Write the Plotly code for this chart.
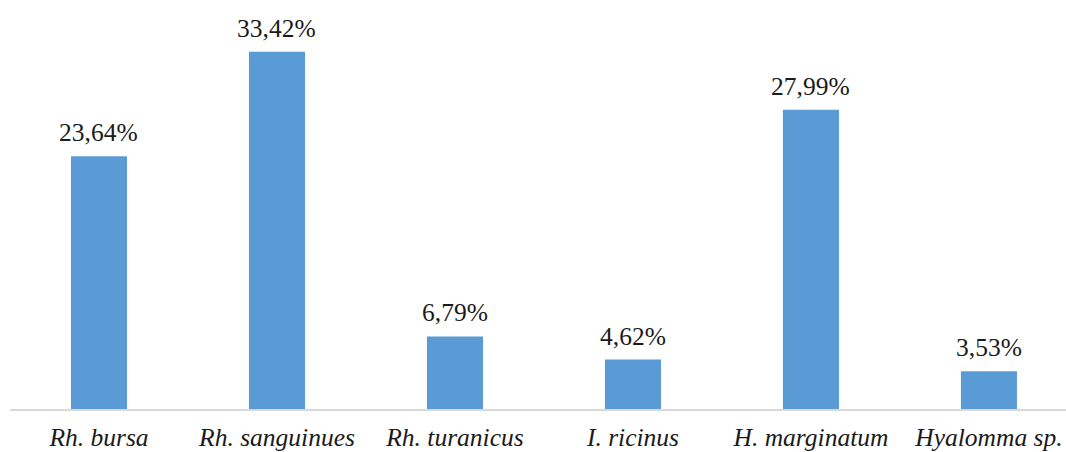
import plotly.graph_objects as go

species = ["Rh. bursa", "Rh. sanguinues", "Rh. turanicus", "I. ricinus", "H. marginatum", "Hyalomma sp."]
shares = [23.64, 33.42, 6.79, 4.62, 27.99, 3.53]

labels = [f"{v:.2f}".replace(".", ",") + "%" for v in shares]
tick_text = [f"<i>{s}</i>" for s in species]
serif = "Liberation Serif"
ink = "#1a1a1a"

fig = go.Figure(
    go.Bar(
        x=species,
        y=shares,
        marker=dict(color="#5B9BD5", line=dict(width=0)),
        width=0.315,
        cliponaxis=False,
    )
)

# value labels above each bar
for s, v, t in zip(species, shares, labels):
    fig.add_annotation(
        x=s, y=v, text=t, showarrow=False,
        yanchor="bottom", yshift=7,
        font=dict(family=serif, size=25.5, color=ink),
    )

fig.update_layout(
    width=1066,
    height=452,
    margin=dict(l=10, r=0, t=0, b=43),
    paper_bgcolor="white",
    plot_bgcolor="white",
    showlegend=False,
    font=dict(family=serif, size=25.5, color=ink),
)
fig.update_xaxes(
    range=[-0.5, 5.433],
    tickvals=species,
    ticktext=tick_text,
    showline=True,
    linecolor="#D9D9D9",
    linewidth=1.5,
    ticks="",
    ticklabelstandoff=5,
    automargin=False,
    showgrid=False,
    tickfont=dict(family=serif, size=25.5, color=ink),
)
fig.update_yaxes(range=[0, 38.26], visible=False, showgrid=False, automargin=False)

fig.write_html("out.html")
